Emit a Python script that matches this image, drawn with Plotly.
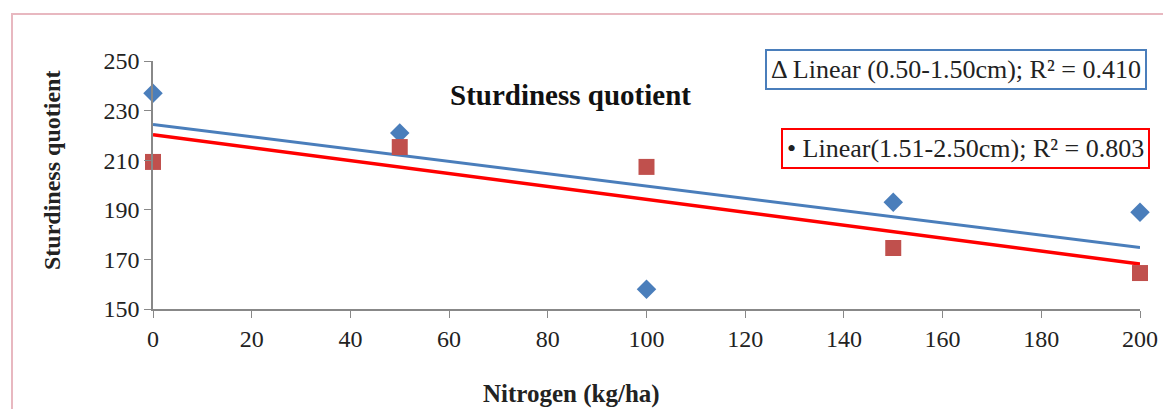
import numpy as np
import plotly.graph_objects as go

nitrogen = [0, 50, 100, 150, 200]
sq_small = [237, 221, 158, 193, 189]      # 0.50-1.50cm
sq_large = [209.3, 215.3, 207.3, 174.6, 164.5]  # 1.51-2.50cm
x_ticks = [0, 20, 40, 60, 80, 100, 120, 140, 160, 180, 200]
y_ticks = [150, 170, 190, 210, 230, 250]

blue = "#4A7EBB"
red_marker = "#C0504D"
red_line = "#FF0000"
font_family = "Liberation Serif, Times New Roman, serif"

x_arr = np.array(nitrogen, dtype=float)
fit_small = np.polyfit(x_arr, sq_small, 1)
fit_large = np.polyfit(x_arr, sq_large, 1)
x_line = np.array([min(nitrogen), max(nitrogen)], dtype=float)

fig = go.Figure()
fig.add_trace(go.Scatter(x=x_line, y=np.polyval(fit_small, x_line), mode="lines",
                         line=dict(color=blue, width=3), showlegend=False, hoverinfo="skip",
                         cliponaxis=False))
fig.add_trace(go.Scatter(x=x_line, y=np.polyval(fit_large, x_line), mode="lines",
                         line=dict(color=red_line, width=3.5), showlegend=False, hoverinfo="skip",
                         cliponaxis=False))
fig.add_trace(go.Scatter(x=nitrogen, y=sq_small, mode="markers", cliponaxis=False,
                         marker=dict(symbol="diamond", size=15, color=blue), showlegend=False))
fig.add_trace(go.Scatter(x=nitrogen, y=sq_large, mode="markers", cliponaxis=False,
                         marker=dict(symbol="square", size=16, color=red_marker), showlegend=False))

# body margin removed by post_script, so figure coords = screen coords
W, H = 1163, 409
L, T = 153, 61
R = W - 1140
B = H - 309
pw, ph = W - L - R, H - T - B

def px(xs):
    return (xs - L) / pw

def py(ys):
    return (H - B - ys) / ph

border_path = "M {x0},{y0} L {x0},{y1} L {x1},{y1}".format(
    x0=px(12), x1=px(1200), y0=py(420), y1=py(14))

fig.update_layout(
    width=W, height=H,
    margin=dict(l=L, r=R, t=T, b=B),
    paper_bgcolor="white", plot_bgcolor="white",
    font=dict(family=font_family, size=20, color="#222222"),
    xaxis=dict(range=[0, 200], tickvals=x_ticks, showgrid=False, zeroline=False,
               automargin=False,
               showline=True, linecolor="#888888", linewidth=1.5,
               ticks="outside", ticklen=7, tickcolor="#888888",
               tickfont=dict(size=24, family=font_family, color="#222222")),
    yaxis=dict(range=[150, 250], tickvals=y_ticks, showgrid=False, zeroline=False,
               automargin=False,
               showline=True, linecolor="#888888", linewidth=1.5,
               ticks="outside", ticklen=7, tickcolor="#888888",
               tickfont=dict(size=24, family=font_family, color="#222222")),
    shapes=[
        dict(type="path", xref="paper", yref="paper", path=border_path,
             line=dict(color="#E8B8C0", width=2), layer="below"),
    ],
    annotations=[
        dict(text="<b>Sturdiness quotient</b>", xref="paper", yref="paper", x=px(570), y=py(95),
             xanchor="center", yanchor="middle", showarrow=False,
             font=dict(size=29, family=font_family, color="#111111")),
        dict(text="<b>Nitrogen (kg/ha)</b>", xref="paper", yref="paper", x=px(571), y=py(394),
             xanchor="center", yanchor="middle", showarrow=False,
             font=dict(size=25, family=font_family, color="#222222")),
        dict(text="<b>Sturdiness quotient</b>", xref="paper", yref="paper", x=px(52), y=py(171),
             xanchor="center", yanchor="middle", showarrow=False, textangle=-90,
             font=dict(size=24, family=font_family, color="#222222")),
        dict(text="Δ Linear (0.50-1.50cm); R² = 0.410", xref="paper", yref="paper", x=px(765), y=py(69),
             xanchor="left", yanchor="middle", showarrow=False, align="left",
             bordercolor=blue, borderwidth=2, borderpad=4, bgcolor="white",
             font=dict(size=26, family=font_family, color="#222222")),
        dict(text="• Linear(1.51-2.50cm); R² = 0.803", xref="paper", yref="paper", x=px(781), y=py(148),
             xanchor="left", yanchor="middle", showarrow=False, align="left",
             bordercolor=red_line, borderwidth=2, borderpad=4, bgcolor="white",
             font=dict(size=26, family=font_family, color="#222222")),
    ],
)

fig.write_html("out.html", config={"displayModeBar": False},
               post_script="document.body.style.margin='0';document.body.style.overflow='hidden';")
